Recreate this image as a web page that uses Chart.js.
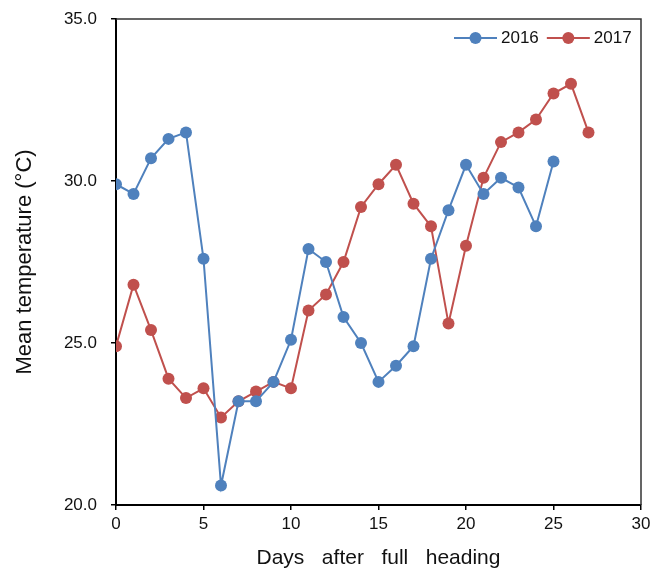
<!DOCTYPE html>
<html>
<head>
<meta charset="utf-8">
<script src="https://cdn.jsdelivr.net/npm/chart.js@4/dist/chart.umd.min.js"></script>
<style>
  html, body { margin: 0; padding: 0; background: #fff; }
  #wrap { width: 651px; height: 572px; position: relative; }
</style>
</head>
<body>
<div id="wrap"><canvas id="temp_chart"></canvas></div>
<script>
// data
var days2016 = [0, 1, 2, 3, 4, 5, 6, 7, 8, 9, 10, 11, 12, 13, 14, 15, 16, 17, 18, 19, 20, 21, 22, 23, 24, 25];
var temp2016 = [29.9, 29.6, 30.7, 31.3, 31.5, 27.6, 20.6, 23.2, 23.2, 23.8, 25.1, 27.9, 27.5, 25.8, 25.0, 23.8, 24.3, 24.9, 27.6, 29.1, 30.5, 29.6, 30.1, 29.8, 28.6, 30.6];
var days2017 = [0, 1, 2, 3, 4, 5, 6, 7, 8, 9, 10, 11, 12, 13, 14, 15, 16, 17, 18, 19, 20, 21, 22, 23, 24, 25, 26, 27];
var temp2017 = [24.9, 26.8, 25.4, 23.9, 23.3, 23.6, 22.7, 23.2, 23.5, 23.8, 23.6, 26.0, 26.5, 27.5, 29.2, 29.9, 30.5, 29.3, 28.6, 25.6, 28.0, 30.1, 31.2, 31.5, 31.9, 32.7, 33.0, 31.5];
var seriesLabels = ["2016", "2017"];
var seriesColors = ["#4F81BD", "#C0504D"];
var xTicks = [0, 5, 10, 15, 20, 25, 30];
var yTicks = [20, 25, 30, 35];

function toPoints(xs, ys) {
    return xs.map(function(x, i) { return {x: x, y: ys[i]}; });
}

function noPadding(scale) {
    scale.paddingTop = 0;
    scale.paddingBottom = 0;
    scale.paddingLeft = 0;
    scale.paddingRight = 0;
}

Chart.defaults.font.family = "'Liberation Sans', Arial, sans-serif";
Chart.defaults.color = "#111";

// box around the plot + legend drawn inside the plot area
var framePlugin = {
    id: 'frame',
    afterDatasetsDraw: function(chart) {
        var ctx = chart.ctx, a = chart.chartArea;
        ctx.save();
        ctx.strokeStyle = '#333';
        ctx.lineWidth = 1.5;
        ctx.beginPath();
        ctx.moveTo(a.left, a.top);
        ctx.lineTo(a.right, a.top);
        ctx.lineTo(a.right, a.bottom);
        ctx.stroke();

        // legend
        var x = 454, y = 38;
        ctx.font = "17px 'Liberation Sans', Arial, sans-serif";
        ctx.textBaseline = 'middle';
        chart.data.datasets.forEach(function(ds) {
            ctx.strokeStyle = ds.borderColor;
            ctx.lineWidth = 2;
            ctx.beginPath();
            ctx.moveTo(x, y);
            ctx.lineTo(x + 43, y);
            ctx.stroke();
            ctx.fillStyle = ds.backgroundColor;
            ctx.beginPath();
            ctx.arc(x + 21.5, y, 6, 0, Math.PI * 2);
            ctx.fill();
            ctx.fillStyle = '#111';
            ctx.textAlign = 'left';
            ctx.fillText(ds.label, x + 47, y);
            x += 47 + ctx.measureText(ds.label).width + 8;
        });
        ctx.restore();
    }
};

var ctx = document.getElementById("temp_chart").getContext("2d");
new Chart(ctx, {
    type: 'line',
    data: {
        datasets: [
            {
                label: seriesLabels[0],
                data: toPoints(days2016, temp2016),
                borderColor: seriesColors[0],
                backgroundColor: seriesColors[0],
                borderWidth: 2,
                pointRadius: 6,
                pointBorderWidth: 0,
                pointHoverRadius: 6,
                tension: 0
            },
            {
                label: seriesLabels[1],
                data: toPoints(days2017, temp2017),
                borderColor: seriesColors[1],
                backgroundColor: seriesColors[1],
                borderWidth: 2,
                pointRadius: 6,
                pointBorderWidth: 0,
                pointHoverRadius: 6,
                tension: 0
            }
        ]
    },
    options: {
        responsive: true,
        maintainAspectRatio: false,
        animation: false,
        events: [],
        layout: { padding: { left: 0, right: 10, top: 19, bottom: 0 } },
        plugins: {
            legend: { display: false },
            tooltip: { enabled: false }
        },
        scales: {
            x: {
                type: 'linear',
                min: 0,
                max: 30,
                afterFit: function(scale) { scale.height = 67; noPadding(scale); },
                afterBuildTicks: function(scale) {
                    scale.ticks = xTicks.map(function(v) { return {value: v}; });
                },
                grid: { drawOnChartArea: false, drawTicks: true, tickLength: 5, color: '#000', lineWidth: 1.5 },
                border: { display: true, color: '#000', width: 2 },
                ticks: { font: { size: 17 }, padding: 4, color: '#111', maxRotation: 0 },
                title: {
                    display: true,
                    text: 'Days   after   full   heading',
                    font: { size: 21 },
                    color: '#111',
                    padding: { top: 0, bottom: 1 }
                }
            },
            y: {
                min: 20,
                max: 35,
                afterFit: function(scale) { scale.width = 116; noPadding(scale); },
                afterBuildTicks: function(scale) {
                    scale.ticks = yTicks.map(function(v) { return {value: v}; });
                },
                grid: { drawOnChartArea: false, drawTicks: true, tickLength: 5, color: '#000', lineWidth: 1.5 },
                border: { display: true, color: '#000', width: 2 },
                ticks: {
                    font: { size: 17 },
                    padding: 14,
                    color: '#111',
                    callback: function(v) { return Number(v).toFixed(1); }
                },
                title: {
                    display: true,
                    text: 'Mean temperature (°C)',
                    font: { size: 22 },
                    color: '#111',
                    padding: { top: 12, bottom: 0 }
                }
            }
        }
    },
    plugins: [framePlugin]
});
</script>
</body>
</html>
